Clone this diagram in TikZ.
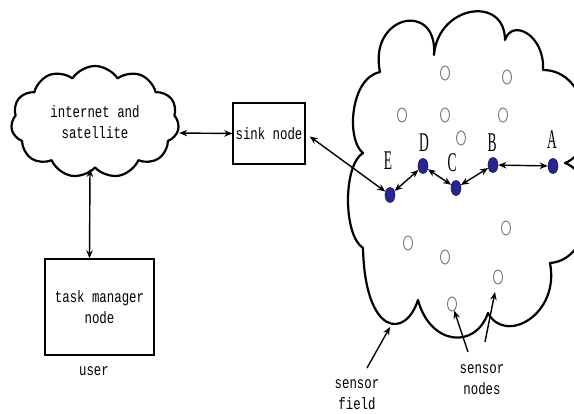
\documentclass[tikz,border=0pt]{standalone}
\usepackage{fontspec}
\usetikzlibrary{shapes.geometric,shapes.symbols,arrows.meta}
\newfontfamily\cnfont{Liberation Mono}[FakeStretch=0.75]
\newfontfamily\ltfont{Liberation Serif}[FakeStretch=0.5]
\definecolor{dotblue}{RGB}{38,38,140}
\definecolor{hollow}{RGB}{125,125,125}
\tikzset{
  txt/.style={font=\cnfont\fontsize{16.5}{21}\selectfont, align=center, inner sep=0pt},
  lbl/.style={font=\ltfont\fontsize{27}{27}\selectfont, inner sep=0pt},
  boxnode/.style={draw, line width=1.4pt, inner sep=0pt, font=\cnfont\fontsize{16.5}{21}\selectfont, align=center},
  cloudline/.style={line width=2.2pt, line join=round},
  arr/.style={{Stealth[length=8pt,width=6.5pt]}-{Stealth[length=8pt,width=6.5pt]}, line width=1.4pt},
  sarr/.style={-{Stealth[length=8pt,width=6.5pt]}, line width=1.4pt},
  bdot/.style={ellipse, fill=dotblue, draw=dotblue!70!black, line width=0.6pt, minimum width=10pt, minimum height=15pt, inner sep=0pt},
  hdot/.style={ellipse, draw=hollow, line width=1pt, minimum width=9pt, minimum height=14pt, inner sep=0pt},
}
\begin{document}
\begin{tikzpicture}[x=1pt,y=-1pt]
\useasboundingbox (0,0) rectangle (574,414);
% big sensor-field cloud
\begin{scope}
\clip (0,0) rectangle (574,414);
\draw[cloudline] (363,153) .. controls (346,140) and (350,78) .. (380,72)
  .. controls (368,15) and (438,0) .. (434,55)
  .. controls (438,5) and (505,-5) .. (505,40)
  .. controls (512,18) and (545,35) .. (543,70)
  .. controls (590,70) and (600,150) .. (565,163)
  .. controls (600,175) and (595,260) .. (550,263)
  .. controls (560,315) and (505,345) .. (488,313)
  .. controls (475,350) and (430,345) .. (418,300)
  .. controls (405,340) and (365,335) .. (363,248)
  .. controls (343,235) and (343,165) .. cycle;
\end{scope}
% small cloud
\node[cloud, draw, cloudline, cloud puffs=11, cloud puff arc=115, aspect=1.5,
      minimum width=168pt, minimum height=112pt, inner sep=0pt,
      font=\cnfont\fontsize{16.5}{21}\selectfont, align=center] (inet) at (95,122) {internet and\\satellite};
% boxes
\node[boxnode, minimum width=72pt, minimum height=61pt] (sink) at (269,133.5) {sink node};
\node[boxnode, minimum width=109pt, minimum height=96pt] (task) at (99.5,307) {task manager\\node};
\node[txt] (user) at (94,371) {user};
% hollow sensor nodes
\node[hdot] (h1) at (445,73) {};
\node[hdot] (h2) at (507,77) {};
\node[hdot] (h3) at (402,115) {};
\node[hdot] (h4) at (445,115) {};
\node[hdot] (h5) at (503,115) {};
\node[hdot] (h6) at (461,138) {};
\node[hdot] (h7) at (506,228) {};
\node[hdot] (h8) at (408,243) {};
\node[hdot] (h9) at (445,257) {};
\node[hdot] (h10) at (498,277) {};
\node[hdot] (h11) at (452,304) {};
% path nodes
\node[bdot] (E) at (390,195) {};
\node[bdot] (D) at (423,166) {};
\node[bdot] (C) at (456,188) {};
\node[bdot] (B) at (493,165) {};
\node[bdot] (A) at (553,166) {};
\node[lbl] (lE) at (388,161) {E};
\node[lbl] (lD) at (424,143) {D};
\node[lbl] (lC) at (452,163) {C};
\node[lbl] (lB) at (492,143) {B};
\node[lbl] (lA) at (552,140) {A};
% connectors
\draw[arr] ([yshift=-11pt]inet.east) -- (sink.west);
\draw[arr] ([xshift=-5pt]inet.south) -- ([xshift=-10pt]task.north);
\draw[arr, shorten <=5pt] (sink.east) -- (E);
\draw[arr] (E) -- (D);
\draw[arr] (D) -- (C);
\draw[arr] (C) -- (B);
\draw[arr] (B) -- (A);
% annotation labels
\node[txt] (sf) at (357,395) {sensor\\field};
\node[txt] (sn) at (482,379.5) {sensor\\nodes};
\coordinate (sft) at (367,368);
\coordinate (sfe) at (390,327);
\coordinate (snt1) at (468,352);
\coordinate (snt2) at (485,342);
\draw[sarr] (sft) -- (sfe);
\draw[sarr] (snt1) -- (h11);
\draw[sarr, shorten >=8pt] (snt2) -- (h10);
\end{tikzpicture}
\end{document}
